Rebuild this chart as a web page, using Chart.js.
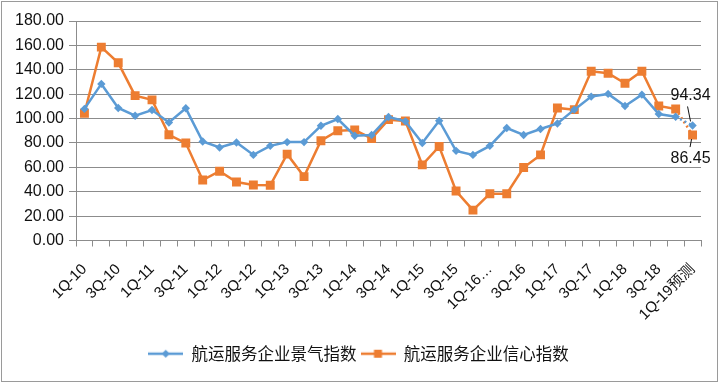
<!DOCTYPE html>
<html>
<head>
<meta charset="utf-8">
<script src="https://cdn.jsdelivr.net/npm/chart.js@4/dist/chart.umd.min.js"></script>
<style>
  html, body { margin: 0; padding: 0; background: #ffffff; }
  #wrap { position: relative; width: 720px; height: 384px; }
  canvas { display: block; }
</style>
</head>
<body>
<div id="wrap"><canvas id="c" width="720" height="384"></canvas></div>
<script>
const categories = [
  "1Q-10","2Q-10","3Q-10","4Q-10",
  "1Q-11","2Q-11","3Q-11","4Q-11",
  "1Q-12","2Q-12","3Q-12","4Q-12",
  "1Q-13","2Q-13","3Q-13","4Q-13",
  "1Q-14","2Q-14","3Q-14","4Q-14",
  "1Q-15","2Q-15","3Q-15","4Q-15",
  "1Q-16…","2Q-16","3Q-16","4Q-16",
  "1Q-17","2Q-17","3Q-17","4Q-17",
  "1Q-18","2Q-18","3Q-18","4Q-18",
  "1Q-19预测"
];
const prosperityIndex = [
  107.9, 128.4, 108.7, 102.3, 107.0, 96.8, 108.4, 81.2, 76.3, 80.4,
  70.2, 77.6, 80.7, 80.7, 94.1, 99.6, 85.9, 86.5, 101.3, 97.7,
  79.9, 98.2, 73.5, 70.2, 77.6, 92.2, 86.5, 91.4, 96.0, 107.3,
  118.0, 120.2, 110.3, 119.6, 103.7, 101.5, 94.34
];
const confidenceIndex = [
  104.3, 158.6, 145.7, 118.8, 115.3, 86.7, 79.9, 49.6, 56.8, 48.0,
  45.5, 45.3, 70.8, 52.4, 81.8, 90.0, 90.6, 83.7, 99.1, 98.0,
  62.0, 77.1, 40.6, 24.9, 38.4, 38.4, 59.8, 70.2, 108.7, 107.3,
  138.8, 137.2, 128.9, 138.8, 110.3, 107.9, 86.45
];
const seriesNames = ["航运服务企业景气指数", "航运服务企业信心指数"];
const yTicks = { min: 0, max: 180, step: 20 };

const BLUE = "#5B9BD5";
const ORANGE = "#ED7D31";
const GRID = "#8c8c8c";
const FONT = "'Liberation Sans', Arial, 'Noto Sans CJK SC', sans-serif";
const CJK = "'Noto Sans CJK SC', 'Liberation Sans', sans-serif";
const lastIdx = categories.length - 1;

function legendIcon(color, style) {
  const c = document.createElement("canvas");
  c.width = 35; c.height = 12;
  const g = c.getContext("2d");
  g.strokeStyle = color; g.lineWidth = 2.5;
  g.beginPath(); g.moveTo(0, 6); g.lineTo(35, 6); g.stroke();
  g.fillStyle = color;
  if (style === "diamond") {
    g.beginPath(); g.moveTo(17.5, 2); g.lineTo(21.5, 6); g.lineTo(17.5, 10); g.lineTo(13.5, 6); g.closePath(); g.fill();
  } else {
    g.fillRect(13.5, 2, 8, 8);
  }
  return c;
}

const annotPlugin = {
  id: "annot",
  afterDatasetsDraw(chart) {
    const ctx = chart.ctx;
    const pb = chart.getDatasetMeta(0).data[lastIdx];
    const po = chart.getDatasetMeta(1).data[lastIdx];
    ctx.save();
    ctx.fillStyle = "#111";
    ctx.font = "16px " + FONT;
    ctx.textAlign = "left";
    ctx.textBaseline = "middle";
    ctx.fillText(prosperityIndex[lastIdx].toFixed(2), pb.x - 22, pb.y - 30);
    ctx.fillText(confidenceIndex[lastIdx].toFixed(2), po.x - 22, po.y + 24);
    ctx.strokeStyle = "#111";
    ctx.lineWidth = 1;
    ctx.beginPath();
    ctx.moveTo(pb.x - 5, pb.y - 19); ctx.lineTo(pb.x - 2, pb.y - 4);
    ctx.moveTo(po.x - 1, po.y + 4); ctx.lineTo(po.x - 2.5, po.y + 12);
    ctx.stroke();
    ctx.restore();
  },
  afterDraw(chart) {
    const ctx = chart.ctx;
    ctx.save();
    ctx.strokeStyle = "#9a9a9a";
    ctx.lineWidth = 1;
    ctx.strokeRect(1.5, 1.5, 716, 380);
    ctx.restore();
  }
};

const dashLast = (c) => (c.p1DataIndex === lastIdx ? [2, 3] : undefined);

new Chart(document.getElementById("c"), {
  type: "line",
  data: {
    labels: categories,
    datasets: [
      {
        label: seriesNames[0],
        data: prosperityIndex,
        borderColor: BLUE,
        backgroundColor: BLUE,
        borderWidth: 2.5,
        pointStyle: "rectRot",
        pointRadius: 4.2,
        pointBorderWidth: 0,
        tension: 0,
        segment: { borderDash: dashLast }
      },
      {
        label: seriesNames[1],
        data: confidenceIndex,
        borderColor: ORANGE,
        backgroundColor: ORANGE,
        borderWidth: 2.5,
        pointStyle: "rect",
        pointRadius: 6.3,
        pointBorderWidth: 0,
        tension: 0,
        segment: { borderDash: dashLast }
      }
    ]
  },
  options: {
    responsive: false,
    animation: false,
    events: [],
    layout: { padding: { left: 16, right: 19, top: 21, bottom: 12 } },
    plugins: {
      tooltip: { enabled: false },
      legend: {
        position: "bottom",
        labels: {
          usePointStyle: true,
          pointStyleWidth: 35,
          boxHeight: 12,
          padding: 4,
          color: "#111",
          font: { family: CJK, size: 16.5 },
          generateLabels(chart) {
            return chart.data.datasets.map((ds, i) => ({
              text: ds.label,
              fillStyle: ds.borderColor,
              strokeStyle: ds.borderColor,
              lineWidth: 0,
              pointStyle: legendIcon(ds.borderColor, i === 0 ? "diamond" : "square"),
              datasetIndex: i,
              hidden: false,
              fontColor: "#111"
            }));
          }
        }
      }
    },
    scales: {
      x: {
        type: "category",
        offset: true,
        grid: {
          display: true,
          offset: true,
          drawOnChartArea: false,
          drawTicks: true,
          tickLength: 6,
          tickColor: GRID,
          color: GRID
        },
        border: { display: true, color: GRID, width: 1 },
        ticks: {
          autoSkip: false,
          minRotation: 45,
          maxRotation: 45,
          padding: 14,
          color: "#111",
          font: { family: FONT, size: 15 },
          callback(v, i) { return i % 2 === 0 ? this.getLabelForValue(v) : ""; }
        },
        afterFit(scale) { scale.height = 101; }
      },
      y: {
        min: yTicks.min,
        max: yTicks.max,
        grid: {
          color: GRID,
          lineWidth: 1,
          drawTicks: true,
          tickLength: 7,
          tickColor: GRID
        },
        border: { display: true, color: GRID, width: 1 },
        ticks: {
          stepSize: yTicks.step,
          padding: 5,
          color: "#111",
          font: { family: FONT, size: 16 },
          callback(v) { return Number(v).toFixed(2); }
        },
        afterFit(scale) { scale.width = 60; }
      }
    }
  },
  plugins: [annotPlugin]
});
</script>
</body>
</html>
